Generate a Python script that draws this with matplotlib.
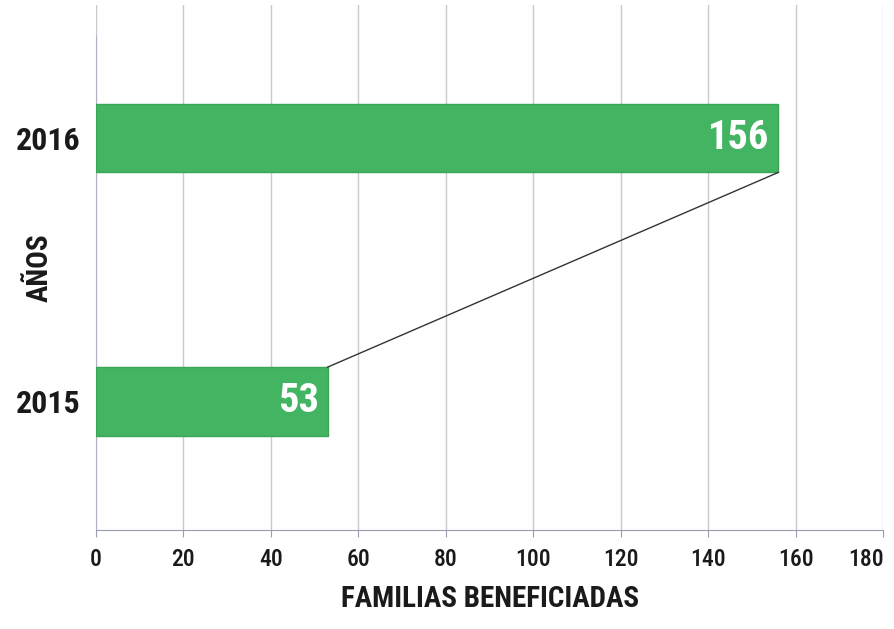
import matplotlib
matplotlib.use("Agg")
import matplotlib.pyplot as plt
from matplotlib import font_manager

# data
years = ["2015", "2016"]
familias = [53, 156]
x_ticks = [0, 20, 40, 60, 80, 100, 120, 140, 160, 180]

# the original uses a very narrow font; take the narrowest one we have
installed = {f.name for f in font_manager.fontManager.ttflist}
family = "DejaVu Sans"
for name in ["Liberation Sans Narrow", "Roboto Condensed", "Open Sans Condensed",
             "DejaVu Sans Condensed"]:
    if name in installed:
        family = name
        break
plt.rcParams['font.family'] = [family, 'DejaVu Sans']
plt.rcParams['font.stretch'] = 'condensed'

fig = plt.figure(figsize=(8.95, 6.29), dpi=100)
ax = fig.add_axes([0.107, 0.157, 0.880, 0.835])

bar_h = 0.26
ypos = list(range(len(years)))
ax.barh(ypos, familias, height=bar_h, color="#43b562", edgecolor="#3aa556",
        linewidth=1, zorder=3)

# connector between the bar ends
ax.plot([familias[0], familias[1]], [ypos[0] + bar_h / 2, ypos[1] - bar_h / 2],
        color="#333333", lw=1, zorder=4)

# values inside bars
for y, v in zip(ypos, familias):
    ax.text(v - 2, y, str(v), ha="right", va="center", color="white",
            fontsize=29, fontweight="bold", zorder=5)

ax.set_xlim(0, 180)
ax.set_ylim(-0.49, 1.506)
ax.set_xticks(x_ticks)
ax.set_xticklabels([str(t) for t in x_ticks], fontsize=17, fontweight="medium",
                   color="#1a1a1a")
labels = ax.get_xticklabels()
labels[-1].set_horizontalalignment("right")
ax.set_yticks(ypos)
ax.set_yticklabels(years, fontsize=23, fontweight="bold", color="#1a1a1a")

ax.grid(axis="x", color="#c9c9d2", lw=1, zorder=0)
ax.tick_params(axis="x", length=5, color="#9a9db0", pad=8)
ax.tick_params(axis="y", length=0, pad=11)

for s in ["top", "right"]:
    ax.spines[s].set_visible(False)
ax.spines["bottom"].set_color("#9a9db0")
ax.spines["left"].set_color("#b0b3c0")
ax.spines["left"].set_bounds(-0.49, 1.39)

ax.set_xlabel("FAMILIAS BENEFICIADAS", fontsize=21, fontweight="bold",
              color="#1a1a1a", labelpad=10)
ax.set_ylabel("AÑOS", fontsize=21, fontweight="bold", color="#1a1a1a")
ax.yaxis.set_label_coords(-0.054, 0.5)

fig.savefig("out.png", dpi=100)
